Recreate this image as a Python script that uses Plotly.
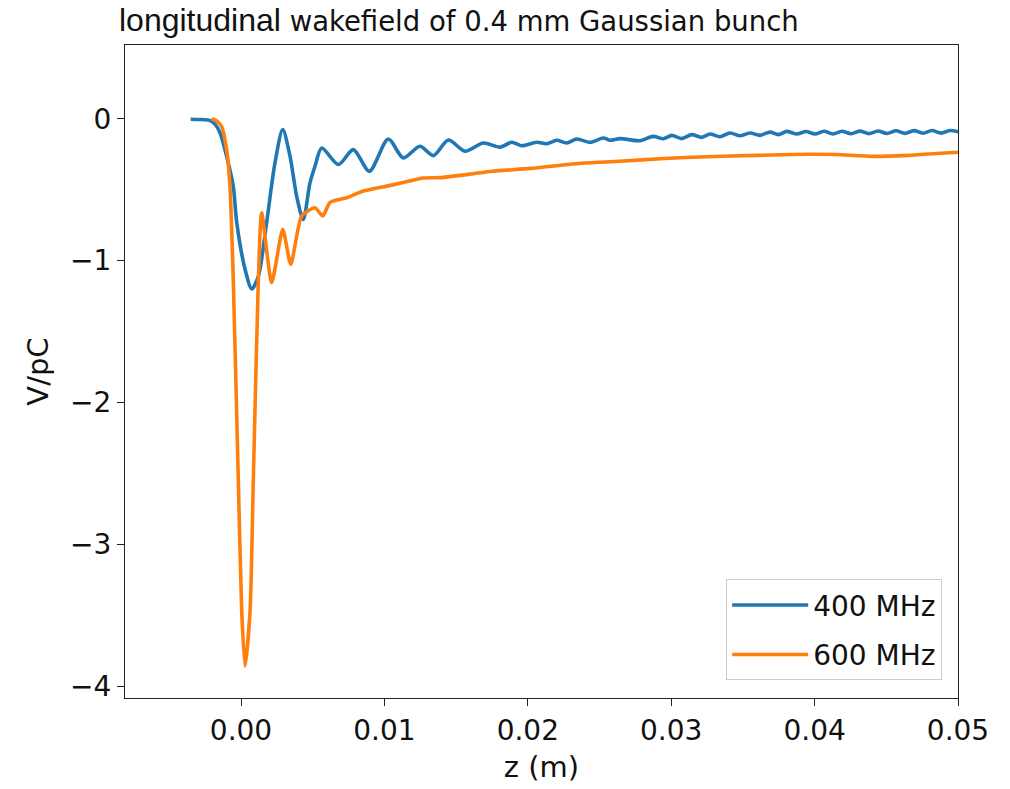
import plotly.graph_objects as go

# ---- data ----
z_400 = [-0.00351, -0.0029, -0.00216, -0.0018, -0.00146, -0.0010, -0.00054, -0.0003,
         0.00028, 0.00075, 0.00121, 0.00179, 0.00237, 0.00291, 0.00342, 0.00388,
         0.00434, 0.00481, 0.00516, 0.00563, 0.00679, 0.00783, 0.00895, 0.01027,
         0.01132, 0.01248, 0.01341, 0.01446, 0.01562, 0.0169, 0.01806, 0.01888,
         0.01957, 0.02062, 0.02132, 0.02202, 0.02271, 0.02341, 0.02434, 0.02527,
         0.02573, 0.02643, 0.02782, 0.02875, 0.02945, 0.03003, 0.03073, 0.03143,
         0.03213, 0.03271, 0.0334, 0.0341, 0.0348, 0.0355, 0.03619, 0.03689,
         0.03747, 0.03805, 0.03877, 0.0394, 0.04003, 0.04066, 0.04128, 0.04191,
         0.04254, 0.04317, 0.04379, 0.04442, 0.04505, 0.04568, 0.0463, 0.04693,
         0.04756, 0.04819, 0.04882, 0.04944, 0.0500]
v_400 = [-0.003, -0.005, -0.012, -0.04, -0.10, -0.265, -0.476, -0.73,
         -1.06, -1.20, -1.11, -0.73, -0.31, -0.077, -0.265, -0.546,
         -0.71, -0.452, -0.335, -0.206, -0.323, -0.218, -0.37, -0.143,
         -0.276, -0.194, -0.26, -0.15, -0.229, -0.171, -0.20, -0.166,
         -0.19, -0.166, -0.176, -0.152, -0.171, -0.143, -0.166, -0.136,
         -0.152, -0.14, -0.155, -0.124, -0.141, -0.117, -0.14, -0.112,
         -0.131, -0.108, -0.127, -0.10, -0.12, -0.10, -0.117, -0.094,
         -0.112, -0.089, -0.108, -0.09, -0.108, -0.088, -0.107, -0.088,
         -0.106, -0.087, -0.105, -0.086, -0.104, -0.085, -0.103, -0.084,
         -0.102, -0.083, -0.101, -0.083, -0.092]

z_600 = [-0.00204, -0.0017, -0.00135, -0.0010, -0.00077, -0.00054, -0.00019,
         0.00005, 0.00028, 0.00063, 0.00086, 0.00121, 0.00144, 0.00214,
         0.00291, 0.00347, 0.00423, 0.00516, 0.0057, 0.00621, 0.00737,
         0.00853, 0.01016, 0.0113, 0.01271, 0.0139, 0.016, 0.0175, 0.0202,
         0.0235, 0.0264, 0.0295, 0.0325, 0.036, 0.0395, 0.0415, 0.044,
         0.0465, 0.0485, 0.0500]
v_600 = [0.0, -0.015, -0.055, -0.22, -0.476, -1.13, -2.54,
         -3.475, -3.86, -3.475, -2.54, -1.13, -0.663, -1.155,
         -0.78, -1.026, -0.686, -0.628, -0.686, -0.59, -0.557,
         -0.51, -0.475, -0.45, -0.418, -0.415, -0.39, -0.37, -0.35,
         -0.315, -0.30, -0.28, -0.268, -0.258, -0.25, -0.252, -0.265,
         -0.258, -0.245, -0.236]

series_names = ["400 MHz", "600 MHz"]
x_ticks = [0.00, 0.01, 0.02, 0.03, 0.04, 0.05]
x_tick_text = ["0.00", "0.01", "0.02", "0.03", "0.04", "0.05"]
y_ticks = [0, -1, -2, -3, -4]
y_tick_text = ["0", "\u22121", "\u22122", "\u22123", "\u22124"]

FONT = "DejaVu Sans"
BLUE = "#1f77b4"
ORANGE = "#ff7f0e"

fig = go.Figure()
fig.add_trace(go.Scatter(x=z_400, y=v_400, mode="lines", name=series_names[0],
                         legendgroup="a",
                         line=dict(color=BLUE, width=3.6, shape="spline", smoothing=0.8)))
fig.add_trace(go.Scatter(x=z_600, y=v_600, mode="lines", name=series_names[1],
                         legendgroup="b",
                         line=dict(color=ORANGE, width=3.6, shape="spline", smoothing=0.6)))

axis_common = dict(showline=True, linecolor="#222222", linewidth=1.3, mirror=True,
                   ticks="outside", ticklen=7, tickwidth=1.3, tickcolor="#222222",
                   showgrid=False, zeroline=False,
                   tickfont=dict(family=FONT, size=28, color="#111111"))

fig.update_layout(
    width=1010, height=789,
    margin=dict(l=125, r=52, t=45, b=89),
    paper_bgcolor="white", plot_bgcolor="white",
    showlegend=True,
    legend=dict(x=0.981, y=0.027, xanchor="right", yanchor="bottom",
                bgcolor="rgba(255,255,255,0.8)", bordercolor="#cccccc", borderwidth=1,
                font=dict(family=FONT, size=28, color="#111111"),
                itemwidth=76, tracegroupgap=10),
    xaxis=dict(range=[-0.00809, 0.05], tickvals=x_ticks, ticktext=x_tick_text,
               title=dict(text="z (m)", font=dict(family=FONT, size=29, color="#111111"),
                          standoff=10),
               **axis_common),
    yaxis=dict(range=[-4.084, 0.52], tickvals=y_ticks, ticktext=y_tick_text,
               title=dict(text="V/pC", font=dict(family=FONT, size=29, color="#111111"),
                          standoff=12),
               **axis_common),
)

fig.add_annotation(
    xref="paper", yref="paper", x=-0.0096, y=1.038, xanchor="left", yanchor="middle",
    showarrow=False,
    text='<span style="font-family:Liberation Sans;font-size:32px">longitudinal</span>'
         ' wakefield of 0.4 mm Gaussian bunch',
    font=dict(family=FONT, size=27.5, color="#111111"),
)

fig.write_html("out.html")
